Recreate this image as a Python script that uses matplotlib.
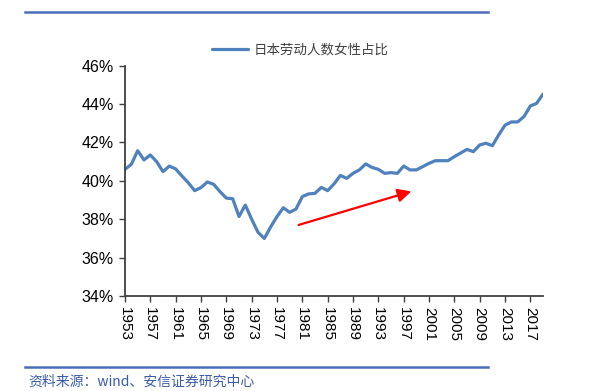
import matplotlib
matplotlib.use('Agg')
import matplotlib.pyplot as plt
from matplotlib.lines import Line2D
from matplotlib.ticker import FuncFormatter, MultipleLocator

plt.rcParams['font.family'] = ['Liberation Sans', 'Noto Sans CJK SC', 'DejaVu Sans']

# Share of women in Japan's labour force, %
YEARS = list(range(1953, 2020))
FEMALE_SHARE = [
    40.60, 40.86, 41.57, 41.09, 41.35, 41.00, 40.48, 40.77, 40.62, 40.25,
    39.90, 39.49, 39.65, 39.94, 39.82, 39.44, 39.10, 39.07, 38.14, 38.74,
    38.00, 37.32, 37.00, 37.60, 38.14, 38.60, 38.36, 38.53, 39.18, 39.32,
    39.35, 39.66, 39.49, 39.84, 40.28, 40.13, 40.39, 40.57, 40.88, 40.70,
    40.60, 40.39, 40.43, 40.39, 40.77, 40.57, 40.57, 40.74, 40.91, 41.05,
    41.05, 41.05, 41.26, 41.45, 41.64, 41.52, 41.87, 41.96, 41.83, 42.39,
    42.90, 43.07, 43.07, 43.35, 43.90, 44.04, 44.52,
]
SERIES_LABEL = '日本劳动人数女性占比'
SOURCE_TEXT = '资料来源：wind、安信证券研究中心'

# trend arrow (year, value)
ARROW_START = (1980.4, 37.7)
ARROW_END = (1998.2, 39.45)

LINE_BLUE = '#4f81bd'
RULE_BLUE = '#4a6fb8'
W, H = 589, 391

fig = plt.figure(figsize=(W / 100, H / 100), dpi=100)
ax = fig.add_axes([125 / W, 1 - 296 / H, (543 - 125) / W, (296 - 65.7) / H])

line, = ax.plot(YEARS, FEMALE_SHARE, color=LINE_BLUE, lw=2.3,
                solid_joinstyle='round', solid_capstyle='round',
                label=SERIES_LABEL)

ax.annotate('', xy=ARROW_END, xytext=ARROW_START,
            arrowprops=dict(arrowstyle='-|>,head_length=0.8,head_width=0.4',
                            color='#ff0000', lw=1.6, shrinkA=0, shrinkB=0))

ax.set_xlim(YEARS[0], YEARS[-1])
ax.set_ylim(34, 46)
ax.yaxis.set_major_locator(MultipleLocator(2))
ax.yaxis.set_major_formatter(FuncFormatter(lambda v, p: f'{v:.0f}%'))
ax.set_xticks(list(range(1953, 2018, 4)))
ax.tick_params(axis='x', labelrotation=-90, labelsize=11, length=4,
               width=1, color='#404040', pad=4)
ax.tick_params(axis='y', labelsize=11.5, length=4, width=1, color='#404040',
               pad=4)

for side in ('top', 'right'):
    ax.spines[side].set_visible(False)
for side in ('left', 'bottom'):
    ax.spines[side].set_color('#404040')
    ax.spines[side].set_linewidth(1.3)

leg = fig.legend(handles=[line], loc='center',
                 bbox_to_anchor=(300 / W, 1 - 50 / H), frameon=False,
                 handlelength=2.7, handletextpad=0.4,
                 prop={'family': ['Noto Sans CJK SC', 'DejaVu Sans'],
                       'size': 9.7})
for t in leg.get_texts():
    t.set_color('#404040')

# report header and footer rules
for y in (11.7, 367.3):
    fig.add_artist(Line2D([25 / W, 488 / W], [1 - y / H, 1 - y / H],
                          transform=fig.transFigure, color=RULE_BLUE, lw=1.8))

fig.text(28 / W, 1 - 382 / H, SOURCE_TEXT, ha='left', va='center',
         fontsize=10, color='#3a5ba8', style='italic',
         family=['Noto Sans CJK SC', 'DejaVu Sans'])

fig.savefig('out.png', dpi=100)
